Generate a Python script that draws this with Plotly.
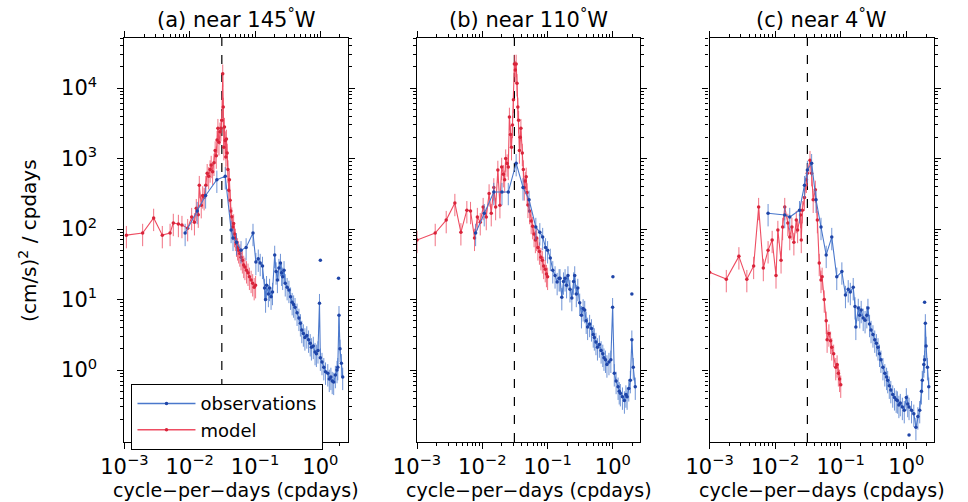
import plotly.graph_objects as go

# ---------------- data ----------------
freq_a_model = [0.00107, 0.0019, 0.0028, 0.0038, 0.0050, 0.0056, 0.0067, 0.0076, 0.0093, 0.0107,
                0.0118, 0.0126, 0.0135, 0.0140, 0.0150, 0.0158, 0.0166, 0.0176, 0.0185, 0.0195,
                0.0205, 0.0213, 0.0224, 0.0235, 0.0245, 0.0255, 0.0262, 0.0270, 0.0280, 0.0290,
                0.0300, 0.0310, 0.0320, 0.0326, 0.0333, 0.0340, 0.0350, 0.0357, 0.0365, 0.0374,
                0.0385, 0.0395, 0.0405, 0.0415, 0.0425, 0.0440, 0.0455, 0.0470, 0.0485, 0.0500,
                0.0520, 0.0540, 0.0560, 0.0585, 0.0610, 0.0640, 0.0670, 0.0700, 0.0740, 0.0780,
                0.0820, 0.0870, 0.0920, 0.0970, 0.1020]
psd_a_model = [82, 88, 144, 82, 88, 122, 118, 114, 103, 148,
               125, 198, 160, 420, 218, 300, 283, 420, 620, 560,
               700, 810, 650, 870, 1300, 1100, 1830, 2700, 1700, 2400,
               2700, 3500, 16000, 5400, 1450, 2800, 1800, 1050, 1900, 1200,
               700, 355, 500, 257, 180, 150, 107, 120, 85, 75,
               62, 55, 50, 45, 40, 36, 31, 29, 26, 24,
               21, 19, 17, 15, 16]

freq_a_obs = [0.0085, 0.0130, 0.0175, 0.026, 0.035, 0.043, 0.046, 0.052, 0.061, 0.073,
              0.093, 0.103, 0.112, 0.120, 0.130, 0.140, 0.145, 0.150, 0.160, 0.167,
              0.176, 0.185, 0.200, 0.210, 0.220, 0.232, 0.245, 0.255, 0.265, 0.278,
              0.290, 0.310, 0.330, 0.350, 0.370, 0.390, 0.410, 0.440, 0.470, 0.495,
              0.520, 0.550, 0.580, 0.620, 0.660, 0.700, 0.730, 0.780, 0.830, 0.870,
              0.920, 0.970, 1.000, 1.060, 1.130, 1.200, 1.300, 1.370, 1.450, 1.520,
              1.600, 1.700, 1.800, 1.850, 1.930, 2.000, 2.100, 2.200]
psd_a_obs = [88, 180, 300, 500, 560, 97, 75, 65, 50, 55,
             88, 34, 38, 33, 30, 14.6, 10, 16, 12, 14.6,
             11, 12.8, 43, 25, 19, 28, 33, 24, 21, 26,
             17, 15, 13.7, 11, 9.2, 8.5, 7.8, 6.5, 5.5, 4.6,
             3.7, 3.3, 2.9, 3.1, 2.7, 2.4, 2.1, 2.2, 1.8, 1.7,
             1.9, 8.9, 1.5, 1.3, 1.1, 0.95, 0.9, 0.75, 0.8, 0.7,
             0.68, 0.85, 1.0, 1.1, 6.0, 2.0, 1.25, 0.8]
freq_a_obs_dots = [1.0, 1.9]
psd_a_obs_dots = [36, 20]

freq_b_model = [0.00100, 0.0019, 0.0028, 0.0038, 0.0047, 0.0058, 0.0066, 0.0076, 0.0084, 0.0093,
                0.0103, 0.0115, 0.0127, 0.0137, 0.0150, 0.0160, 0.0173, 0.0186, 0.0198, 0.0210,
                0.0220, 0.0228, 0.0240, 0.0250, 0.0260, 0.0270, 0.0280, 0.0290, 0.0300, 0.0310,
                0.0320, 0.0330, 0.0340, 0.0350, 0.0360, 0.0370, 0.0380, 0.0390, 0.0410, 0.0425,
                0.0440, 0.0455, 0.0470, 0.0485, 0.0500, 0.0530, 0.0560, 0.0590, 0.0620, 0.0650,
                0.0680, 0.0710, 0.0750, 0.0790, 0.0830, 0.0870, 0.0920, 0.0960, 0.1000]
psd_b_model = [70, 88, 134, 234, 90, 185, 180, 75, 148, 125,
               205, 148, 320, 168, 390, 205, 690, 218, 760, 600,
               500, 1000, 850, 760, 3900, 2200, 1450, 3000, 6800, 22000,
               18000, 22000, 11700, 5400, 3500, 1300, 2000, 2700, 1200, 700,
               390, 480, 550, 330, 220, 180, 130, 110, 85, 70,
               75, 55, 48, 40, 36, 30, 27, 23, 21]

freq_b_obs = [0.0079, 0.0107, 0.015, 0.020, 0.025, 0.033, 0.042, 0.052, 0.066, 0.076,
              0.084, 0.093, 0.100, 0.110, 0.120, 0.130, 0.140, 0.150, 0.155, 0.165,
              0.175, 0.185, 0.195, 0.205, 0.220, 0.235, 0.250, 0.260, 0.275, 0.290,
              0.310, 0.330, 0.350, 0.370, 0.390, 0.410, 0.440, 0.470, 0.500, 0.520,
              0.550, 0.580, 0.620, 0.660, 0.700, 0.730, 0.770, 0.810, 0.870, 0.930,
              0.990, 1.050, 1.120, 1.200, 1.250, 1.300, 1.400, 1.500, 1.580, 1.650,
              1.750, 1.850, 1.950, 2.050, 2.200]
psd_b_obs = [88, 168, 335, 335, 335, 860, 390, 260, 107, 90,
             77, 55, 50, 39, 26, 22, 17.7, 20, 20, 10.8,
             18, 20, 16, 22, 14, 10.5, 18, 22, 12, 14.6,
             9, 6, 7.5, 7.1, 5, 4.1, 4.5, 3.9, 3.2, 2.9,
             2.5, 2.1, 2.3, 1.9, 1.7, 1.5, 1.4, 1.2, 1.3, 1.4,
             7.8, 0.9, 0.7, 0.58, 0.5, 0.47, 0.42, 0.37, 0.45, 0.42,
             0.55, 0.72, 2.7, 1.1, 0.58]
freq_b_obs_dots = [1.0, 1.95]
psd_b_obs_dots = [21, 12]

freq_c_model = [0.00100, 0.0018, 0.0028, 0.0037, 0.0047, 0.0056, 0.0066, 0.0078, 0.0090, 0.0103,
                0.0110, 0.0123, 0.0130, 0.0140, 0.0156, 0.0167, 0.0180, 0.0193, 0.0210, 0.0220,
                0.0244, 0.0250, 0.0260, 0.0280, 0.0300, 0.0310, 0.0340, 0.0360, 0.0380, 0.0410,
                0.0440, 0.0470, 0.0500, 0.0520, 0.0560, 0.0600, 0.0620, 0.0660, 0.0700, 0.0730,
                0.0780, 0.0840, 0.0880, 0.0920, 0.0960, 0.1000]
psd_c_model = [24.5, 19.5, 41, 19.5, 30, 205, 28, 50, 70, 22,
               97, 36, 107, 205, 122, 77, 107, 65, 134, 97,
               158, 70, 185, 280, 500, 620, 950, 620, 260, 360,
               134, 33, 19, 21, 10, 5, 2.7, 3.3, 2.6, 2.1,
               1.7, 1.1, 1.2, 0.9, 0.75, 0.62]

freq_c_obs = [0.0078, 0.0140, 0.0167, 0.0235, 0.028, 0.031, 0.036, 0.042, 0.050, 0.060,
              0.073, 0.087, 0.104, 0.118, 0.130, 0.140, 0.155, 0.165, 0.170, 0.185,
              0.195, 0.205, 0.220, 0.235, 0.250, 0.260, 0.275, 0.290, 0.310, 0.330,
              0.350, 0.370, 0.390, 0.410, 0.440, 0.470, 0.500, 0.520, 0.550, 0.580,
              0.620, 0.660, 0.700, 0.730, 0.770, 0.810, 0.870, 0.930, 1.000, 1.050,
              1.100, 1.200, 1.300, 1.400, 1.500, 1.600, 1.700, 1.750, 1.850, 1.900,
              1.950, 2.000, 2.100, 2.200]
psd_c_obs = [168, 158, 148, 185, 420, 690, 860, 260, 107, 43,
             77, 21, 25, 11.6, 14, 12.8, 15, 8, 4.1, 7.6,
             6, 7.1, 5.5, 5.1, 6, 7.6, 4.5, 3.7, 3.2, 2.7,
             2.4, 2.1, 1.7, 1.4, 1.1, 0.9, 0.8, 0.72, 0.6, 0.52,
             0.45, 0.41, 0.38, 0.37, 0.32, 0.34, 0.3, 0.27, 0.41, 0.33,
             0.30, 0.27, 0.24, 0.155, 0.22, 0.27, 0.5, 0.72, 1.2, 1.4,
             4.6, 2.2, 1.1, 0.58]
freq_c_obs_dots = [1.9, 1.1]
psd_c_obs_dots = [9.2, 0.12]

panel_titles = ["(a) near 145<sup>°</sup>W", "(b) near 110<sup>°</sup>W", "(c) near 4<sup>°</sup>W"]
x_tick_vals = [1e-3, 1e-2, 1e-1, 1]
x_tick_text = ["10<sup>−3</sup>", "10<sup>−2</sup>", "10<sup>−1</sup>", "10<sup>0</sup>"]
y_tick_vals = [1, 10, 100, 1000, 10000]
y_tick_text = ["10<sup>0</sup>", "10<sup>1</sup>", "10<sup>2</sup>", "10<sup>3</sup>", "10<sup>4</sup>"]
inertial_freq = 0.031
x_label = "cycle−per−days (cpdays)"
y_label = "(cm/s)<sup>2</sup> / cpdays"

# ---------------- styling ----------------
FONT = "DejaVu Sans"
W, H = 968, 502
BLUE_LINE, BLUE_MK = "#4a78cc", "#1f45a8"
RED_LINE, RED_MK = "#ee4d62", "#d8243a"

x_domains = [[103 / W, 332 / W], [403 / W, 632 / W], [703 / W, 933 / W]]
y_domain = [(H - 442) / H, (H - 38) / H]

minor_x = [m * 10.0 ** e for e in range(-3, 1) for m in range(2, 10)] + [2.0]
minor_y = [m * 10.0 ** e for e in range(-1, 5) for m in range(2, 10)]

fig = go.Figure()

panels = [
    (freq_a_obs, psd_a_obs, freq_a_model, psd_a_model, freq_a_obs_dots, psd_a_obs_dots),
    (freq_b_obs, psd_b_obs, freq_b_model, psd_b_model, freq_b_obs_dots, psd_b_obs_dots),
    (freq_c_obs, psd_c_obs, freq_c_model, psd_c_model, freq_c_obs_dots, psd_c_obs_dots),
]

for i, (fo, po, fm, pm, fd, pd_) in enumerate(panels):
    xa = "x" if i == 0 else f"x{i+1}"
    ya = "y" if i == 0 else f"y{i+1}"
    fig.add_trace(go.Scatter(
        x=fm, y=pm, mode="lines+markers", name="model", legendgroup="model",
        showlegend=False, xaxis=xa, yaxis=ya,
        line=dict(color=RED_LINE, width=1.1),
        marker=dict(color=RED_MK, size=3.5),
        error_y=dict(type="percent", value=35, thickness=0.8, width=0, color=RED_LINE),
    ))
    fig.add_trace(go.Scatter(
        x=fo, y=po, mode="lines+markers", name="observations", legendgroup="obs",
        showlegend=False, xaxis=xa, yaxis=ya,
        line=dict(color=BLUE_LINE, width=1.1),
        marker=dict(color=BLUE_MK, size=3.5),
        error_y=dict(type="percent", value=35, thickness=0.8, width=0, color=BLUE_LINE),
    ))
    fig.add_trace(go.Scatter(
        x=fd, y=pd_, mode="markers", showlegend=False, xaxis=xa, yaxis=ya,
        marker=dict(color=BLUE_MK, size=3.5),
    ))

# legend-only entries
fig.add_trace(go.Scatter(x=[None], y=[None], mode="lines+markers", name="observations",
                         line=dict(color=BLUE_LINE, width=1.5), marker=dict(color=BLUE_MK, size=3.5)))
fig.add_trace(go.Scatter(x=[None], y=[None], mode="lines+markers", name="model",
                         line=dict(color=RED_LINE, width=1.5), marker=dict(color=RED_MK, size=3.5)))

axis_common = dict(
    type="log", showline=True, linecolor="black", linewidth=1.2, mirror="allticks",
    ticks="outside", ticklen=6, tickwidth=1.2, tickcolor="black", showgrid=False,
    zeroline=False, tickfont=dict(family=FONT, size=21, color="black"),
)

layout = dict(
    width=W, height=H, margin=dict(l=0, r=0, t=0, b=0),
    plot_bgcolor="white", paper_bgcolor="white",
    font=dict(family=FONT, size=20, color="black"),
    legend=dict(x=110 / W, y=(H - 384) / H, xanchor="left", yanchor="top",
                bgcolor="white", bordercolor="black", borderwidth=1.2,
                font=dict(family=FONT, size=18, color="black"),
                itemwidth=58, tracegroupgap=0),
    annotations=[], shapes=[],
)

for i in range(3):
    xk = "xaxis" if i == 0 else f"xaxis{i+1}"
    yk = "yaxis" if i == 0 else f"yaxis{i+1}"
    xa = "x" if i == 0 else f"x{i+1}"
    ya = "y" if i == 0 else f"y{i+1}"
    layout[xk] = dict(axis_common, domain=x_domains[i], anchor=ya, range=[-3.0, 0.42],
                      tickmode="array", tickvals=x_tick_vals, ticktext=x_tick_text,
                      minor=dict(tickmode="array", tickvals=minor_x, ticks="outside",
                                 ticklen=3, tickwidth=1, tickcolor="black", showgrid=False))
    layout[yk] = dict(axis_common, domain=y_domain, anchor=xa, range=[-1.02, 4.71],
                      tickmode="array", tickvals=y_tick_vals, ticktext=y_tick_text,
                      showticklabels=(i == 0), ticklabelstandoff=16,
                      minor=dict(tickmode="array", tickvals=minor_y, ticks="outside",
                                 ticklen=3, tickwidth=1, tickcolor="black", showgrid=False))
    cx = (x_domains[i][0] + x_domains[i][1]) / 2
    layout["annotations"].append(dict(
        text=panel_titles[i], x=cx, y=1 - 18 / H, xref="paper", yref="paper",
        xanchor="center", yanchor="middle", showarrow=False,
        font=dict(family=FONT, size=21, color="black")))
    layout["annotations"].append(dict(
        text=x_label, x=cx, y=1 - 490 / H, xref="paper", yref="paper",
        xanchor="center", yanchor="middle", showarrow=False,
        font=dict(family=FONT, size=19, color="black")))
    layout["shapes"].append(dict(
        type="line", xref=xa, x0=inertial_freq, x1=inertial_freq,
        yref=f"{ya} domain", y0=0, y1=1, layer="below",
        line=dict(color="black", width=1.2, dash="dash")))

layout["annotations"].append(dict(
    text=y_label, x=4 / W, y=(H - 240) / H, xref="paper", yref="paper",
    xanchor="center", yanchor="middle", textangle=-90, showarrow=False,
    font=dict(family=FONT, size=20, color="black")))

fig.update_layout(**layout)
fig.write_html("out.html")
